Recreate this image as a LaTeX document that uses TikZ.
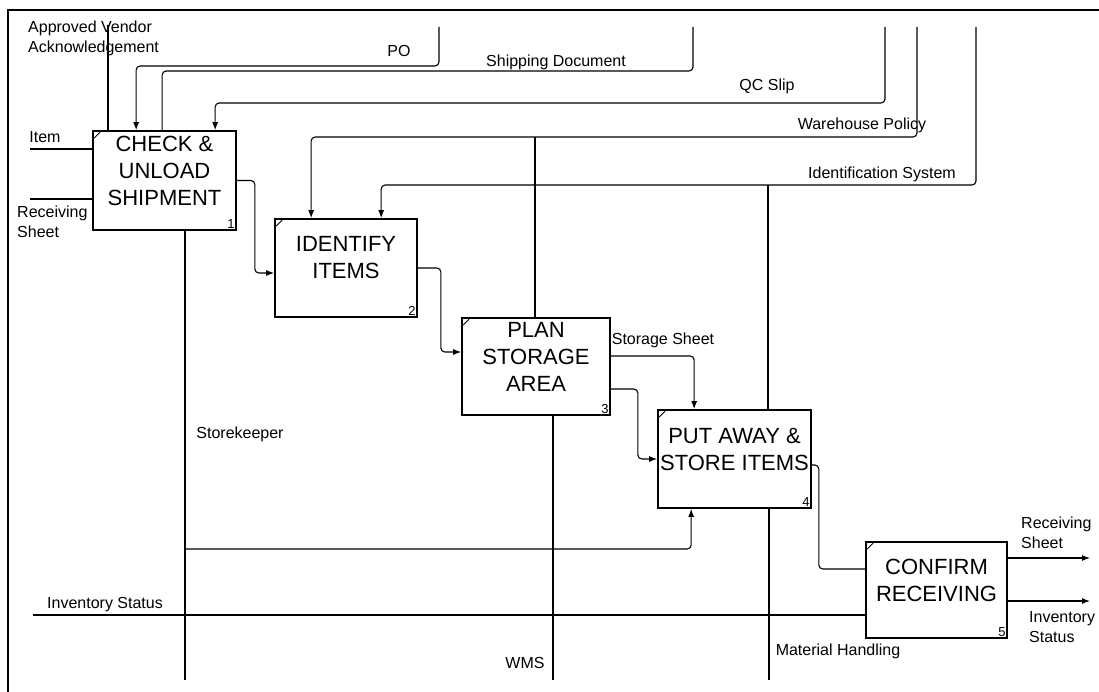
\documentclass[tikz,border=0pt]{standalone}
\usepackage{fontspec}
\setmainfont{Liberation Sans}
\usetikzlibrary{arrows.meta}
\begin{document}
\begin{tikzpicture}[x=1pt, y=-1pt, >={Latex[length=8pt,width=6pt]},
    box/.style={draw, line width=1.7pt, inner sep=0pt},
    boxtxt/.style={align=center, yshift=10pt, font=\fontsize{22}{27}\selectfont},
    lbl/.style={inner sep=0pt, font=\fontsize{16}{20}\selectfont},
    num/.style={inner sep=2pt, font=\fontsize{13}{14}\selectfont},
    flow/.style={line width=1.1pt, rounded corners=4pt}]
    \useasboundingbox (0,0) rectangle (1099,692);
    \draw[line width=1.1pt] (1099,10) -- (8,10) -- (8,692);

    % activities
    \node[box, minimum width=143, minimum height=99, label={[boxtxt]center:{CHECK \&\\UNLOAD\\SHIPMENT}}] (chk) at (164.5,180.5) {};
    \node[box, minimum width=142, minimum height=98, label={[boxtxt]center:{IDENTIFY\\ITEMS}}] (idn) at (346,268) {};
    \node[box, minimum width=148, minimum height=97, label={[boxtxt]center:{PLAN\\STORAGE\\AREA}}] (pln) at (536,366.5) {};
    \node[box, minimum width=153, minimum height=98, label={[boxtxt]center:{PUT AWAY \&\\STORE ITEMS}}] (put) at (734.5,459) {};
    \node[box, minimum width=141, minimum height=96, label={[boxtxt]center:{CONFIRM\\RECEIVING}}] (cnf) at (936.5,590) {};

    \foreach \b/\n in {chk/1, idn/2, pln/3, put/4, cnf/5} {
        \node[num, anchor=south east] at (\b.south east) {\n};
        \draw[line width=0.9pt] ([shift={(2,8)}]\b.north west) -- ([shift={(8,2)}]\b.north west);
    }

    % free ends
    \coordinate (ava) at (108,25);
    \coordinate (po) at (439,27);
    \coordinate (shp) at (693,27);
    \coordinate (qc) at (885,27);
    \coordinate (wp) at (917,27);
    \coordinate (ids) at (976,27);
    \coordinate (wpJ) at (535,137);
    \coordinate (idJ) at (768,185);
    \coordinate (item) at (30,149);
    \coordinate (rsIn) at (30,199);
    \coordinate (invIn) at (33,615);
    \coordinate (rsOut) at (1090,558);
    \coordinate (invOut) at (1090,601);
    \coordinate (skE) at (185,680);
    \coordinate (skJ) at (185,549);
    \coordinate (wmsE) at (553,680);
    \coordinate (mhE) at (769,680);

    % controls
    \draw[flow] (ava) -- (ava |- chk.north);
    \draw[flow,->] (po) -- ++(0,39) -| ([xshift=44]chk.north west);
    \draw[flow] (shp) -- ++(0,44) -| ([xshift=70]chk.north west);
    \draw[flow,->] (qc) -- ++(0,76) -| ([xshift=123]chk.north west);
    \draw[flow,->] (wp) -- ++(0,110) -| ([xshift=37]idn.north west);
    \draw[flow,->] (ids) -- ++(0,158) -| ([xshift=107]idn.north west);
    \draw[flow] (wpJ) -- (wpJ |- pln.north);
    \draw[flow] (idJ) -- (idJ |- put.north);
    \draw[flow,->] ([yshift=10.5]pln.east) -| ([xshift=37]put.north west);

    % inputs and outputs
    \draw[flow] (item) -- (item -| chk.west);
    \draw[flow] (rsIn) -- (rsIn -| chk.west);
    \draw[flow] (invIn) -- (invIn -| cnf.west);
    \draw[flow,->] (chk.east) -- ++(18,0) |- ([yshift=-5]idn.west);
    \draw[flow,->] (idn.east) -- ++(23,0) |- ([yshift=14.5]pln.west);
    \draw[flow,->] ([yshift=-22.5]pln.east) -- ++(27,0) |- (put.west);
    \draw[flow] ([yshift=-6]put.east) -- ++(7,0) |- ([yshift=21]cnf.west);
    \draw[flow,->] (rsOut -| cnf.east) -- (rsOut);
    \draw[flow,->] (invOut -| cnf.east) -- (invOut);

    % mechanisms
    \draw[flow] (skE |- chk.south) -- (skE);
    \draw[flow,->] (skJ) -| ([xshift=34]put.south west);
    \draw[flow] (wmsE |- pln.south) -- (wmsE);
    \draw[flow] (mhE |- put.south) -- (mhE);

    % labels
    \node[lbl, align=left, anchor=west] (tAva) at (28,38) {Approved Vendor\\Acknowledgement};
    \node[lbl] (tPo) at (399,51) {PO};
    \node[lbl] (tShp) at (556,62) {Shipping Document};
    \node[lbl] (tQc) at (767,86) {QC Slip};
    \node[lbl] (tWp) at (862,125) {Warehouse Policy};
    \node[lbl] (tIds) at (882,174) {Identification System};
    \node[lbl] (tItem) at (45,137) {Item};
    \node[lbl, align=left, anchor=west] (tRsIn) at (17,222) {Receiving\\Sheet};
    \node[lbl] (tSs) at (663,340) {Storage Sheet};
    \node[lbl, align=left, anchor=west] (tRsOut) at (1021,533) {Receiving\\Sheet};
    \node[lbl, align=left, anchor=west] (tInvOut) at (1029,627) {Inventory\\Status};
    \node[lbl] (tInvIn) at (105,605) {Inventory Status};
    \node[lbl] (tSk) at (240,434) {Storekeeper};
    \node[lbl] (tWms) at (525,663) {WMS};
    \node[lbl] (tMh) at (838,651) {Material Handling};
\end{tikzpicture}
\end{document}
